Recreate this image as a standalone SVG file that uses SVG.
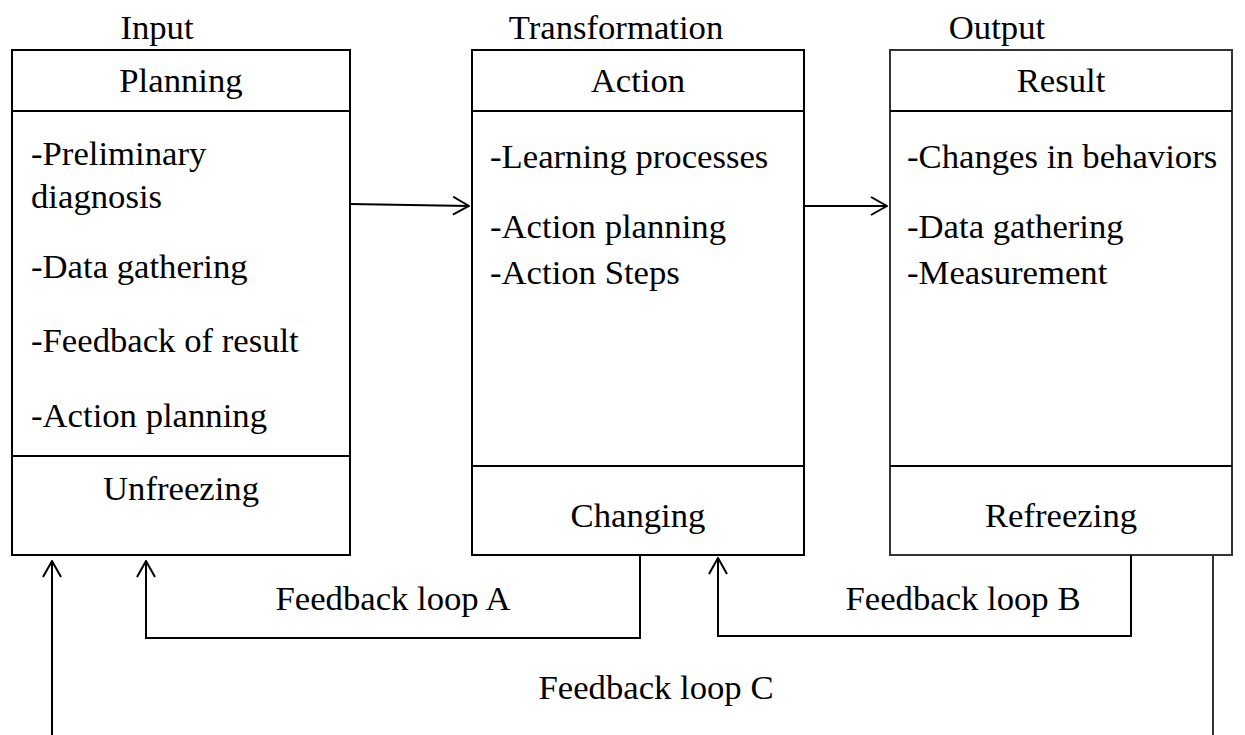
<svg xmlns="http://www.w3.org/2000/svg" width="1245" height="735" viewBox="0 0 1245 735">
<style>
text{font-family:'Liberation Serif','DejaVu Serif',serif;font-size:34.7px;fill:#000}
.c{text-anchor:middle}
.box{fill:#fff;stroke:#000;stroke-width:2}
.box3{fill:#fff;stroke:#333;stroke-width:2}
.ln{stroke:#000;stroke-width:2;fill:none}
.ln3{stroke:#333;stroke-width:2;fill:none}
</style>
<defs>
<marker id="ah" markerWidth="18" markerHeight="20" refX="17" refY="10" viewBox="0 0 18 20" orient="auto" markerUnits="userSpaceOnUse">
<path d="M1,1 L17,10 L1,19" fill="none" stroke="#000" stroke-width="2"/>
</marker>
</defs>
<g id="titles">
<text class="c" x="157" y="39">Input</text>
<text class="c" x="616" y="39">Transformation</text>
<text class="c" x="997" y="39">Output</text>
</g>
<g id="node-planning">
<rect class="box" x="12" y="50" width="338" height="505"/>
<line class="ln" x1="12" y1="111" x2="350" y2="111"/>
<line class="ln" x1="12" y1="456" x2="350" y2="456"/>
<text class="c" x="181" y="92">Planning</text>
<text x="31" y="165">-Preliminary</text>
<text x="31" y="208">diagnosis</text>
<text x="31" y="278">-Data gathering</text>
<text x="31" y="352">-Feedback of result</text>
<text x="31" y="427">-Action planning</text>
<text class="c" x="181" y="500">Unfreezing</text>
</g>
<g id="node-action">
<rect class="box" x="472" y="50" width="332" height="505"/>
<line class="ln" x1="472" y1="111" x2="804" y2="111"/>
<line class="ln" x1="472" y1="466" x2="804" y2="466"/>
<text class="c" x="638" y="92">Action</text>
<text x="490" y="168">-Learning processes</text>
<text x="490" y="238">-Action planning</text>
<text x="490" y="284">-Action Steps</text>
<text class="c" x="638" y="527">Changing</text>
</g>
<g id="node-result">
<rect class="box3" x="890" y="50" width="342" height="505"/>
<line class="ln" x1="890" y1="111" x2="1232" y2="111"/>
<line class="ln" x1="890" y1="466" x2="1232" y2="466"/>
<text class="c" x="1061" y="92">Result</text>
<text x="907" y="168">-Changes in behaviors</text>
<text x="907" y="238">-Data gathering</text>
<text x="907" y="284">-Measurement</text>
<text class="c" x="1061" y="527">Refreezing</text>
</g>
<g id="connectors">
<line class="ln" x1="350" y1="204" x2="469" y2="206" marker-end="url(#ah)"/>
<line class="ln" x1="804" y1="206" x2="887" y2="206" marker-end="url(#ah)"/>
<polyline class="ln" points="640,555 640,638 146,638 146,561" marker-end="url(#ah)"/>
<polyline class="ln" points="1131,555 1131,636 718,636 718,558" marker-end="url(#ah)"/>
<line class="ln3" x1="1213" y1="555" x2="1213" y2="735"/>
<line class="ln" x1="52" y1="735" x2="52" y2="561" marker-end="url(#ah)"/>
<text class="c" x="393" y="610">Feedback loop A</text>
<text class="c" x="963" y="610">Feedback loop B</text>
<text class="c" x="656" y="699">Feedback loop C</text>
</g>
</svg>
